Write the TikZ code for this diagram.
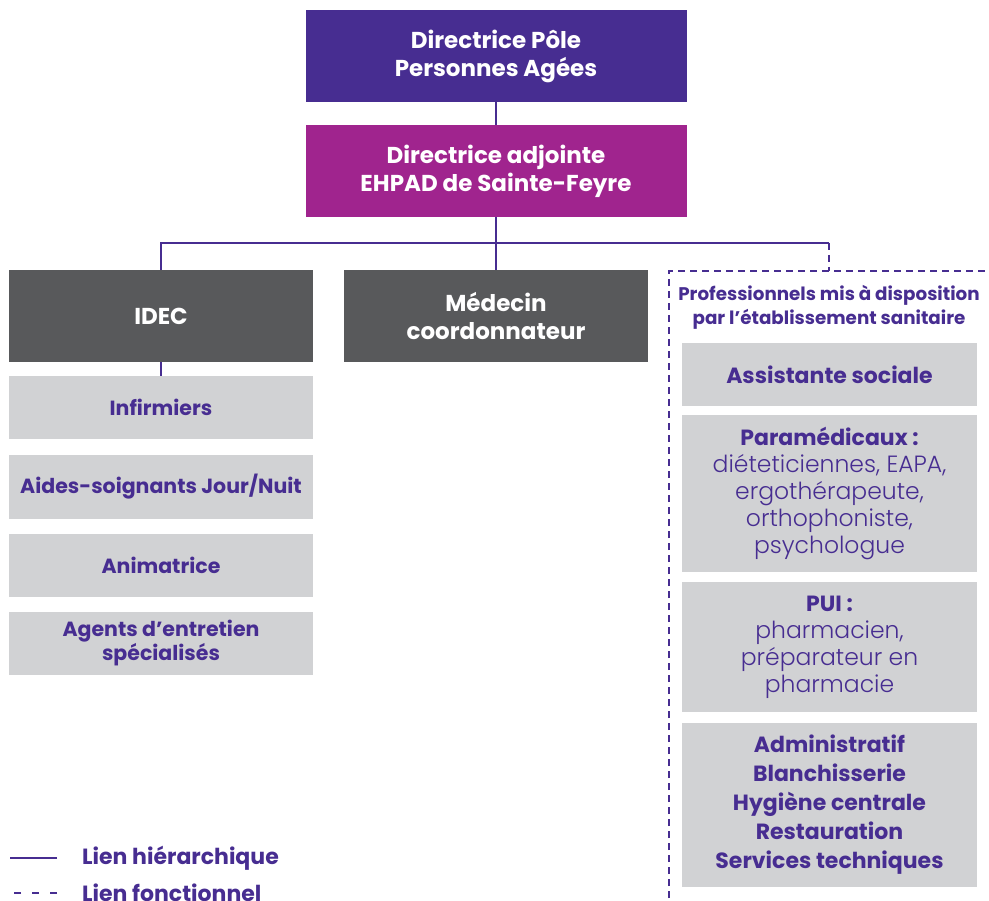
\documentclass[tikz,border=0pt]{standalone}
\usepackage{fontspec}
\setmainfont{Poppins}
\newfontfamily\lightfont{Poppins}[UprightFont={* Light}]
\usepackage{xcolor}
\usetikzlibrary{positioning, calc}

\definecolor{dirpurple}{RGB}{71,45,145}
\definecolor{adjmagenta}{RGB}{160,36,142}
\definecolor{chefgray}{RGB}{88,89,91}
\definecolor{staffgray}{RGB}{209,210,212}

\begin{document}
\begin{tikzpicture}[x=1pt, y=-1pt]
    \tikzstyle{dirbox} = [rectangle, text=white, font=\bfseries\fontsize{23}{28}\selectfont, align=center, minimum width=381pt, minimum height=92pt, inner sep=0pt]
    \tikzstyle{chefbox} = [rectangle, fill=chefgray, text=white, font=\bfseries\fontsize{23}{28}\selectfont, align=center, minimum width=304pt, minimum height=92pt, inner sep=0pt]
    \tikzstyle{staffbox} = [rectangle, fill=staffgray, text=dirpurple, font=\bfseries\fontsize{20.5}{24}\selectfont, align=center, minimum width=304pt, minimum height=63pt, inner sep=0pt]
    \tikzstyle{probox} = [staffbox, minimum width=295pt, font=\bfseries\fontsize{22}{27}\selectfont]
    \tikzstyle{hier} = [draw=dirpurple, line width=2pt]
    \tikzstyle{fonct} = [hier, dash pattern=on 7pt off 5pt]
    \tikzstyle{legend} = [text=dirpurple, font=\bfseries\fontsize{22}{24}\selectfont, anchor=west, inner sep=0pt]
    \newcommand{\lt}[1]{{\lightfont\mdseries\fontsize{23.5}{27}\selectfont #1}}

    \useasboundingbox (0,0) rectangle (989,901);

    \node[dirbox, fill=dirpurple] (pole) at (496,56) {Directrice Pôle\\Personnes Agées};
    \node[dirbox, fill=adjmagenta] (adjointe) at (496,171) {Directrice adjointe\\EHPAD de Sainte-Feyre};
    \node[chefbox] (idec) at (161,316) {IDEC};
    \node[chefbox] (medecin) at (496,316) {Médecin\\coordonnateur};

    % equipe soignante
    \node[staffbox] (infirmiers) at (161,407.5) {Infirmiers};
    \node[staffbox] (aides) at (161,487) {Aides-soignants Jour/Nuit};
    \node[staffbox] (animatrice) at (161,565) {Animatrice};
    \node[staffbox] (agents) at (161,643.5) {Agents d’entretien\\spécialisés};

    % professionnels mis a disposition
    \node[text=dirpurple, font=\bfseries\fontsize{18.3}{24}\selectfont, align=center] (mad) at (829,307) {Professionnels mis à disposition\\par l’établissement sanitaire};
    \node[probox] (assistante) at (829.5,374.5) {Assistante sociale};
    \node[probox, minimum height=157pt] (paramed) at (829.5,493.5) {Paramédicaux :\\\lt{diéteticiennes, EAPA,}\\\lt{ergothérapeute,}\\\lt{orthophoniste,}\\\lt{psychologue}};
    \node[probox, minimum height=130pt] (pui) at (829.5,647) {PUI :\\\lt{pharmacien,}\\\lt{préparateur en}\\\lt{pharmacie}};
    \node[probox, minimum height=164pt, font=\bfseries\fontsize{22}{29}\selectfont] (admin) at (829.5,805) {Administratif\\Blanchisserie\\Hygiène centrale\\Restauration\\Services techniques};

    \coordinate (bus) at (496,243);
    \coordinate (fcorner) at (829,243);
    \coordinate (ftop) at (829,271);
    \coordinate (frameleft) at (669,271);

    \draw[hier] (pole) -- (adjointe);
    \draw[hier] (adjointe) -- (medecin);
    \draw[hier] (idec.north) |- (fcorner);
    \draw[hier] (idec) -- (infirmiers);
    \draw[fonct] (fcorner) -- (ftop);
    \draw[fonct] (frameleft |- 0,910) -- (frameleft) -- (995,271);

    % legende
    \node[legend] (lhier) at (82,858) {Lien hiérarchique};
    \node[legend] (lfonct) at (82,893) {Lien fonctionnel};
    \draw[hier] ([xshift=-25pt]lhier.west) -- ++(-47,0);
    \draw[fonct, dash pattern=on 7pt off 11pt] ([xshift=-25pt]lfonct.west) -- ++(-50,0);
\end{tikzpicture}
\end{document}
